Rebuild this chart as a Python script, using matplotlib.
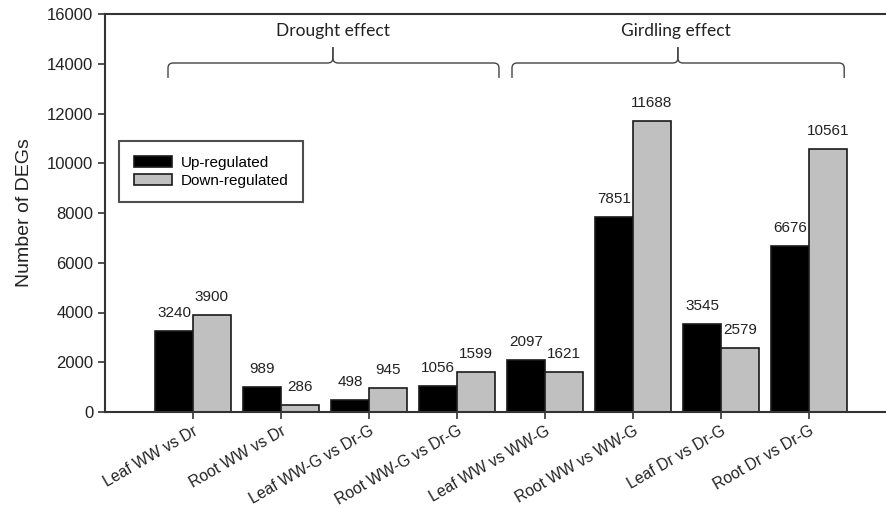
import matplotlib
matplotlib.use("Agg")
import matplotlib.pyplot as plt
import numpy as np
from matplotlib.path import Path
from matplotlib.patches import PathPatch

categories = ["Leaf WW vs Dr", "Root WW vs Dr", "Leaf WW-G vs Dr-G", "Root WW-G vs Dr-G",
              "Leaf WW vs WW-G", "Root WW vs WW-G", "Leaf Dr vs Dr-G", "Root Dr vs Dr-G"]
up_regulated = [3240, 989, 498, 1056, 2097, 7851, 3545, 6676]
down_regulated = [3900, 286, 945, 1599, 1621, 11688, 2579, 10561]
series_names = ["Up-regulated", "Down-regulated"]
group_labels = ["Drought effect", "Girdling effect"]
yticks = [0, 2000, 4000, 6000, 8000, 10000, 12000, 14000, 16000]

plt.rcParams['font.family'] = ['Liberation Sans', 'DejaVu Sans']

fig = plt.figure(figsize=(8.86, 5.08), dpi=100)
ax = fig.add_axes([105/886, 1-412/508, 1-105/886, (412-14)/508])

x = np.arange(1, len(categories)+1)
w = 0.43
edge = '#1a1a1a'
b1 = ax.bar(x - w/2, up_regulated, w, color='black', edgecolor=edge, linewidth=1.2, label=series_names[0])
b2 = ax.bar(x + w/2, down_regulated, w, color='#c0c0c0', edgecolor=edge, linewidth=1.2, label=series_names[1])

for bars, vals in ((b1, up_regulated), (b2, down_regulated)):
    for r, v in zip(bars, vals):
        ax.annotate(f"{v}", (r.get_x() + r.get_width()/2, v), xytext=(0, 8),
                    textcoords='offset points', ha='center', va='bottom', fontsize=11, color='#222222')

ax.set_xlim(0, 8.875)
ax.set_ylim(0, 16000)
ax.set_yticks(yticks)
ax.set_yticklabels([str(t) for t in yticks], fontsize=12, color='#222222')
ax.set_xticks(x)
ax.set_xticklabels(categories, rotation=30, ha='right', rotation_mode='anchor', fontsize=11.3, color='#222222')
ax.tick_params(axis='both', direction='out', length=5, width=1.2, color='#333333')
ax.tick_params(axis='x', pad=3)

for s in ['left', 'bottom', 'top']:
    ax.spines[s].set_linewidth(1.5)
    ax.spines[s].set_color('#333333')
ax.spines['right'].set_visible(False)

ax.set_ylabel("Number of DEGs", fontsize=14, color='#222222')
ax.yaxis.set_label_coords(-0.092, 0.5)

leg = ax.legend(loc='upper left', bbox_to_anchor=((119-105)/781, (412-141)/398),
                fontsize=11, frameon=True, fancybox=False, shadow=False,
                handlelength=2.5, handleheight=0.75, borderpad=0.95, labelspacing=0.28,
                handletextpad=0.6, borderaxespad=0)
leg.get_frame().set_edgecolor('#222222')
leg.get_frame().set_linewidth(1.5)

def brace(x0, x1, xm, y, dend, dtip, rx=0.06, ry=200):
    for xe, s in ((x0, 1), (x1, -1)):
        verts = [(xe, y - dend), (xe, y - ry), (xe, y), (xe + s*rx, y),
                 (xm - s*rx, y), (xm, y), (xm, y + ry), (xm, y + dtip)]
        codes = [Path.MOVETO, Path.LINETO, Path.CURVE3, Path.CURVE3,
                 Path.LINETO, Path.CURVE3, Path.CURVE3, Path.LINETO]
        ax.add_patch(PathPatch(Path(verts, codes), fill=False, edgecolor='#444444', linewidth=1.0, clip_on=False))

brace(0.716, 4.477, 2.59, 14030, 600, 640)
brace(4.625, 8.40, 6.51, 14030, 600, 640)
ax.text(2.59, 15316, group_labels[0], ha='center', va='center', fontsize=12.5, family=['Lato', 'DejaVu Sans'], color='#222222')
ax.text(6.49, 15316, group_labels[1], ha='center', va='center', fontsize=12.5, family=['Lato', 'DejaVu Sans'], color='#222222')

fig.savefig("out.png", dpi=100)
